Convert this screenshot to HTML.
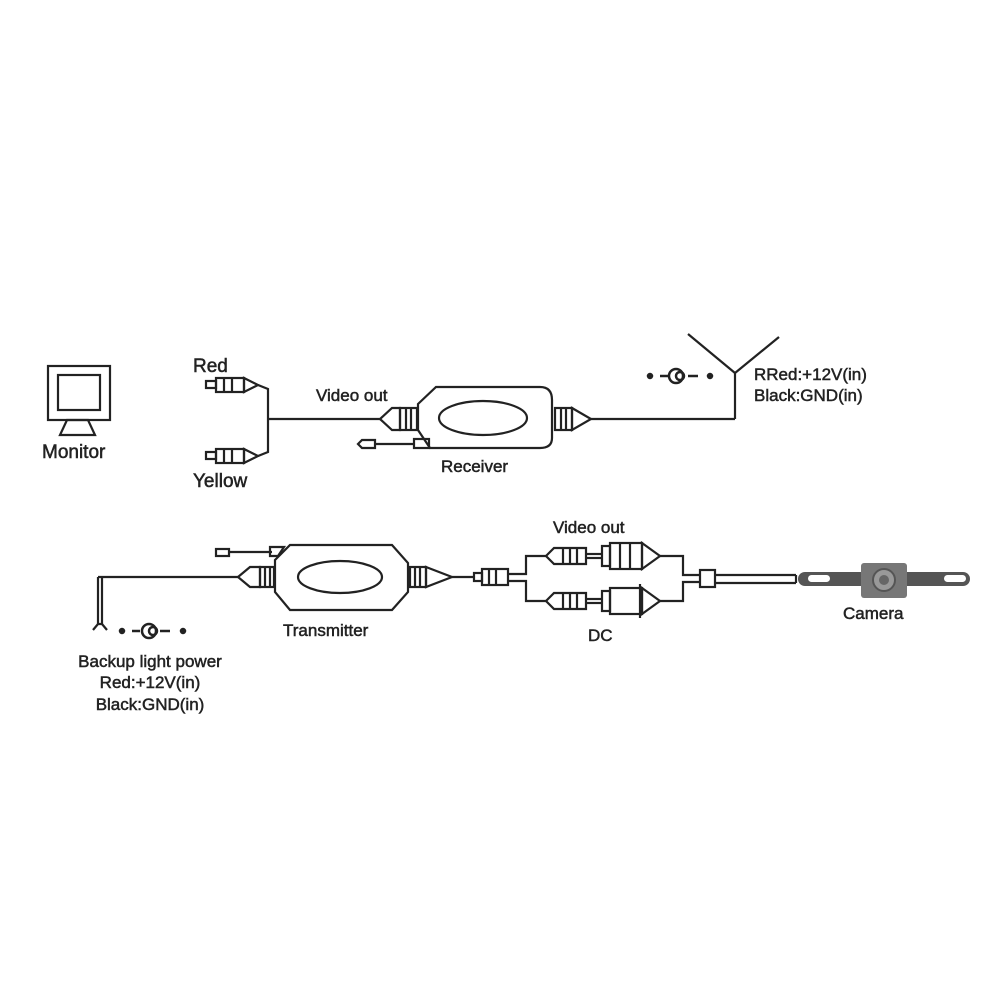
<!DOCTYPE html>
<html><head><style>
html,body{margin:0;padding:0;background:#fff;width:1000px;height:1000px;overflow:hidden}
text{font-family:"Liberation Sans",sans-serif;fill:#222;stroke:#222;stroke-width:0.5}
</style></head><body>
<svg width="1000" height="1000" viewBox="0 0 1000 1000" xmlns="http://www.w3.org/2000/svg">
<g fill="none" stroke="#222" stroke-width="2.2">
<rect x="48" y="366" width="62" height="54"/>
<rect x="58" y="375" width="42" height="35"/>
<polygon points="67,420 88,420 95,435 60,435"/>
<rect x="206" y="381" width="10" height="7"/>
<rect x="216" y="378" width="28" height="14"/>
<line x1="224" y1="378" x2="224" y2="392"/><line x1="232" y1="378" x2="232" y2="392"/>
<polygon points="244,378 258,385 244,392"/>
<rect x="206" y="452" width="10" height="7"/>
<rect x="216" y="449" width="28" height="14"/>
<line x1="224" y1="449" x2="224" y2="463"/><line x1="232" y1="449" x2="232" y2="463"/>
<polygon points="244,449 258,456 244,463"/>
<polyline points="258,385 268,389 268,452 258,456"/>
<line x1="268" y1="419" x2="380" y2="419"/>
<!-- Receiver -->
<polygon points="380,419 392,408 400,408 400,430 392,430"/>
<rect x="400" y="408" width="17" height="22"/>
<line x1="406" y1="408" x2="406" y2="430"/><line x1="411" y1="408" x2="411" y2="430"/>
<path d="M418,404 L436,387 L540,387 Q552,387 552,400 L552,438 Q552,448 540,448 L430,448 L418,430 Z"/>
<ellipse cx="483" cy="418" rx="44" ry="17"/>
<rect x="555" y="408" width="17" height="22"/>
<line x1="561" y1="408" x2="561" y2="430"/><line x1="566" y1="408" x2="566" y2="430"/>
<polygon points="572,408 591,419 572,430"/>
<line x1="591" y1="419" x2="735" y2="419"/>
<line x1="735" y1="419" x2="735" y2="373"/>
<line x1="735" y1="373" x2="688" y2="334"/>
<line x1="735" y1="373" x2="779" y2="337"/>
<path d="M358,444 L362,440 L375,440 L375,448 L362,448 Z"/>
<line x1="375" y1="444" x2="414" y2="444"/>
<rect x="414" y="439" width="15" height="9"/>
<!-- Transmitter -->
<line x1="98" y1="577" x2="238" y2="577"/>
<line x1="98" y1="577" x2="98" y2="625"/><line x1="102" y1="577" x2="102" y2="625"/>
<polyline points="93,630 98,624 102,624 107,630"/>
<polygon points="238,577 250,567 260,567 260,587 250,587"/>
<rect x="260" y="567" width="14" height="20"/>
<line x1="265" y1="567" x2="265" y2="587"/><line x1="270" y1="567" x2="270" y2="587"/>
<polygon points="275,560 290,545 392,545 408,563 408,592 392,610 290,610 275,592"/>
<ellipse cx="340" cy="577" rx="42" ry="16"/>
<rect x="410" y="567" width="16" height="20"/>
<line x1="415" y1="567" x2="415" y2="587"/><line x1="420" y1="567" x2="420" y2="587"/>
<polygon points="426,567 452,577 426,587"/>
<rect x="216" y="549" width="13" height="7"/>
<line x1="229" y1="552" x2="272" y2="552"/>
<polygon points="270,547 284,547 278,556 270,556"/>
<line x1="452" y1="577" x2="474" y2="577"/>
<rect x="474" y="573" width="8" height="8"/>
<rect x="482" y="569" width="26" height="16"/>
<line x1="489" y1="569" x2="489" y2="585"/><line x1="496" y1="569" x2="496" y2="585"/>
<polyline points="508,574 526,574 526,556 546,556"/>
<polyline points="508,581 526,581 526,601 546,601"/>
<path d="M546,556 L554,548 L586,548 L586,564 L554,564 Z"/>
<line x1="563" y1="548" x2="563" y2="564"/><line x1="570" y1="548" x2="570" y2="564"/><line x1="577" y1="548" x2="577" y2="564"/>
<line x1="586" y1="554" x2="602" y2="554"/><line x1="586" y1="558" x2="602" y2="558"/>
<rect x="602" y="546" width="8" height="20"/>
<rect x="610" y="543" width="32" height="26"/>
<line x1="620" y1="543" x2="620" y2="569"/><line x1="630" y1="543" x2="630" y2="569"/>
<polygon points="642,543 660,556 642,569"/>
<polyline points="660,556 683,556 683,575 700,575"/>
<path d="M546,601 L554,593 L586,593 L586,609 L554,609 Z"/>
<line x1="563" y1="593" x2="563" y2="609"/><line x1="570" y1="593" x2="570" y2="609"/><line x1="577" y1="593" x2="577" y2="609"/>
<line x1="586" y1="599" x2="602" y2="599"/><line x1="586" y1="603" x2="602" y2="603"/>
<rect x="602" y="591" width="8" height="20"/>
<rect x="610" y="588" width="32" height="26"/>
<line x1="640" y1="584" x2="640" y2="618"/>
<polygon points="642,588 660,601 642,614"/>
<polyline points="660,601 683,601 683,582 700,582"/>
<rect x="700" y="570" width="15" height="17"/>
<line x1="715" y1="575" x2="796" y2="575"/><line x1="715" y1="583" x2="796" y2="583"/>
<line x1="796" y1="575" x2="796" y2="583"/>
</g>
<g fill="#222" stroke="#222" stroke-width="2.5">
<circle cx="650" cy="376" r="2"/><circle cx="710" cy="376" r="2"/>
<line x1="660" y1="376" x2="668" y2="376"/><line x1="688" y1="376" x2="698" y2="376"/>
<circle cx="676" cy="376" r="7" fill="none"/><circle cx="680" cy="376" r="4" fill="none"/>
<circle cx="122" cy="631" r="2"/><circle cx="183" cy="631" r="2"/>
<line x1="132" y1="631" x2="140" y2="631"/><line x1="160" y1="631" x2="170" y2="631"/>
<circle cx="149" cy="631" r="7" fill="none"/><circle cx="153" cy="631" r="4" fill="none"/>
</g>
<rect x="798" y="572" width="172" height="14" rx="7" fill="#555"/>
<rect x="808" y="575" width="22" height="7" rx="3.5" fill="#fff"/>
<rect x="944" y="575" width="22" height="7" rx="3.5" fill="#fff"/>
<rect x="861" y="563" width="46" height="35" rx="3" fill="#777"/>
<circle cx="884" cy="580" r="11" fill="#999" stroke="#555" stroke-width="2"/>
<circle cx="884" cy="580" r="5" fill="#666"/>
<g font-size="19">
<text x="193" y="372">Red</text>
<text x="193" y="487">Yellow</text>
<text x="42" y="458">Monitor</text>
</g>
<g font-size="17">
<text x="316" y="401">Video out</text>
<text x="441" y="472">Receiver</text>
<text x="754" y="380">RRed:+12V(in)</text>
<text x="754" y="401">Black:GND(in)</text>
<text x="283" y="636">Transmitter</text>
<text x="553" y="533">Video out</text>
<text x="588" y="641">DC</text>
<text x="843" y="619">Camera</text>
<text x="150" y="667" text-anchor="middle">Backup light power</text>
<text x="150" y="688" text-anchor="middle">Red:+12V(in)</text>
<text x="150" y="710" text-anchor="middle">Black:GND(in)</text>
</g>
</svg>
</body></html>
